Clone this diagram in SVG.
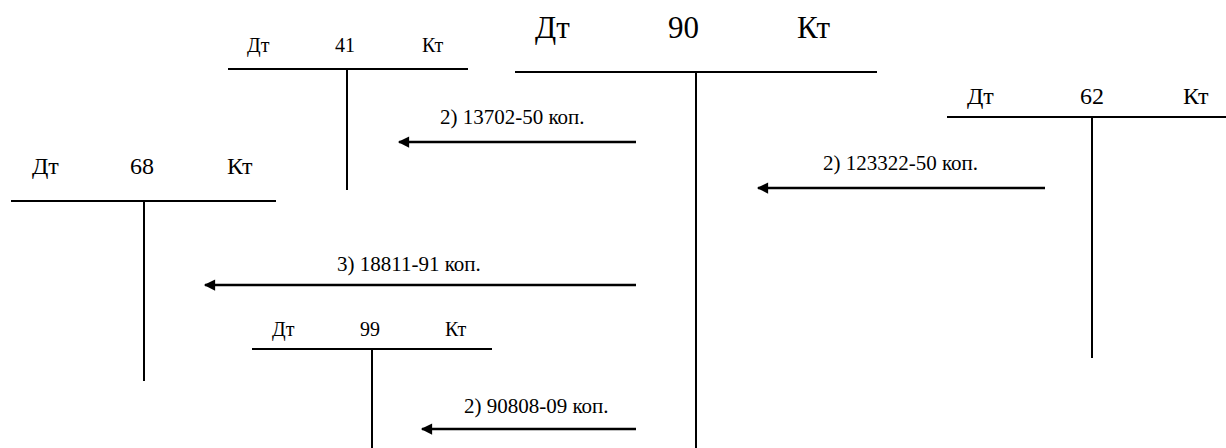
<svg xmlns="http://www.w3.org/2000/svg" width="1226" height="448" viewBox="0 0 1226 448">
<defs>
<style>
text{font-family:"Liberation Serif","Times New Roman",Tinos,"Noto Serif","DejaVu Serif",FreeSerif,"Nimbus Roman",serif;fill:#000}
.s20{font-size:20px}.s24{font-size:24px}.s32{font-size:31px}.lb{font-size:21px}
.ln{stroke:#000;stroke-width:2;fill:none}
.ar{stroke:#000;stroke-width:2.5;fill:none;marker-end:url(#ah)}
</style>
<marker id="ah" viewBox="0 0 10 10" refX="9" refY="5" markerWidth="6" markerHeight="4.5" orient="auto" markerUnits="strokeWidth">
<path d="M0,0 L10,5 L0,10 z" fill="#000"/>
</marker>
</defs>
<g id="acc41">
<line class="ln" x1="228" y1="69" x2="468" y2="69"/>
<line class="ln" x1="347" y1="69" x2="347" y2="190"/>
<text class="s20" x="247" y="52">Дт</text>
<text class="s20" x="335" y="52">41</text>
<text class="s20" x="422" y="52">Кт</text>
</g>
<g id="acc90">
<line class="ln" x1="515" y1="72" x2="877" y2="72"/>
<line class="ln" x1="696" y1="72" x2="696" y2="448"/>
<text class="s32" x="535" y="38">Дт</text>
<text class="s32" x="668" y="38">90</text>
<text class="s32" x="797" y="38">Кт</text>
</g>
<g id="acc62">
<line class="ln" x1="947" y1="117" x2="1226" y2="117"/>
<line class="ln" x1="1092" y1="117" x2="1092" y2="358"/>
<text class="s24" x="967" y="104">Дт</text>
<text class="s24" x="1080" y="104">62</text>
<text class="s24" x="1183" y="104">Кт</text>
</g>
<g id="acc68">
<line class="ln" x1="11" y1="201" x2="276" y2="201"/>
<line class="ln" x1="144" y1="201" x2="144" y2="381"/>
<text class="s24" x="32" y="174">Дт</text>
<text class="s24" x="130" y="174">68</text>
<text class="s24" x="227" y="174">Кт</text>
</g>
<g id="acc99">
<line class="ln" x1="252" y1="349" x2="492" y2="349"/>
<line class="ln" x1="372" y1="349" x2="372" y2="448"/>
<text class="s20" x="272" y="336">Дт</text>
<text class="s20" x="360" y="336">99</text>
<text class="s20" x="445" y="336">Кт</text>
</g>
<g id="connectors">
<line class="ar" x1="636" y1="142" x2="399" y2="142"/>
<text class="lb" x="440" y="124">2) 13702-50 коп.</text>
<line class="ar" x1="1045" y1="188" x2="758" y2="188"/>
<text class="lb" x="823" y="170">2) 123322-50 коп.</text>
<line class="ar" x1="636" y1="285" x2="205" y2="285"/>
<text class="lb" x="337" y="271">3) 18811-91 коп.</text>
<line class="ar" x1="636" y1="429" x2="422" y2="429"/>
<text class="lb" x="464" y="413">2) 90808-09 коп.</text>
</g>
</svg>
